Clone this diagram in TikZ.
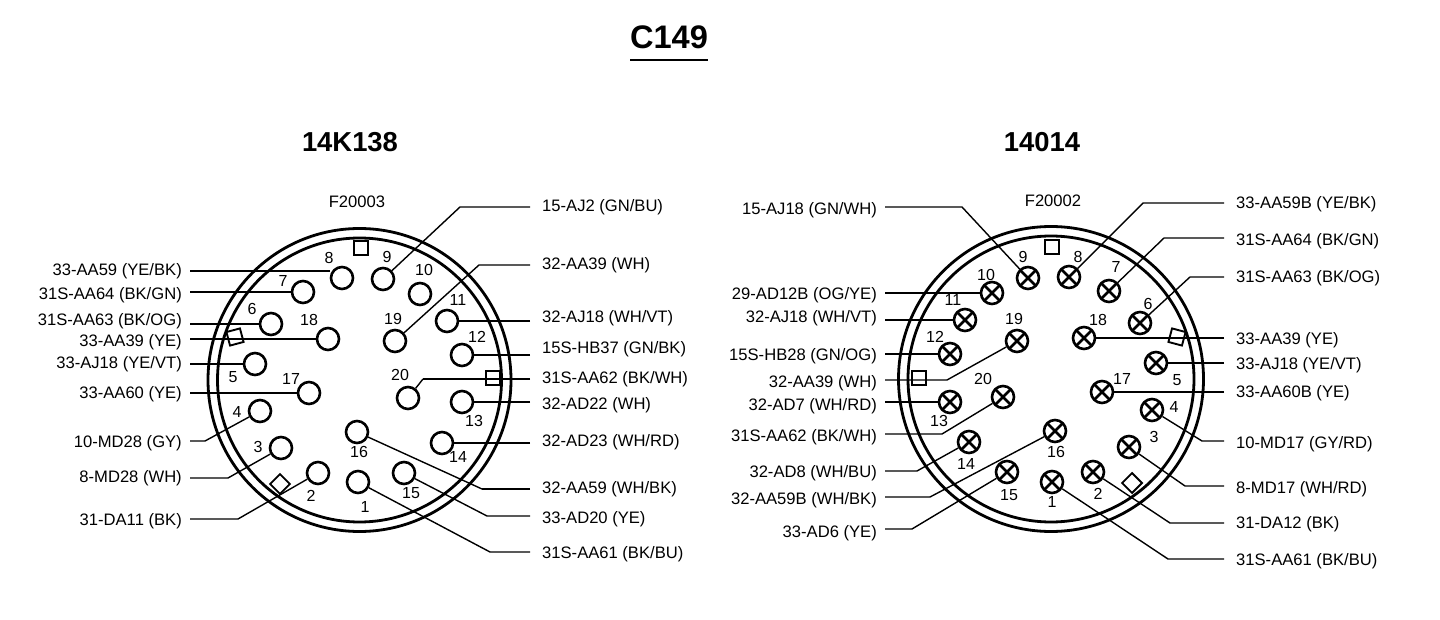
\documentclass[tikz,border=0pt]{standalone}
\usepackage{fontspec}
\setmainfont{Liberation Sans}
\tikzset{
  x=1pt,y=-1pt,
  pin/.style={circle,draw,line width=2.6pt,minimum size=22pt,inner sep=0pt},
  xpin/.style={pin,path picture={\draw[line width=2.8pt]
     (path picture bounding box.south west)--(path picture bounding box.north east)
     (path picture bounding box.north west)--(path picture bounding box.south east);}},
  num/.style={font=\fontsize{16}{18}\selectfont,inner sep=0pt},
  rlab/.style={font=\fontsize{16.6}{18}\selectfont,anchor=east,inner xsep=8pt,inner ysep=0pt,text height=12pt,text depth=0pt},
  llab/.style={font=\fontsize{16.6}{18}\selectfont,anchor=west,inner xsep=12pt,inner ysep=0pt,text height=12pt,text depth=0pt},
  wire/.style={line width=1.4pt},
  hwire/.style={line width=2.2pt},
  keybox/.style={draw,line width=1.9pt,minimum size=14pt,inner sep=0pt},
  ring/.style={draw,line width=2.8pt},
  head/.style={font=\bfseries\fontsize{27.4}{30}\selectfont,inner sep=0pt},
  code/.style={font=\fontsize{16.6}{18}\selectfont,inner sep=0pt},
}
\begin{document}
\begin{tikzpicture}
\useasboundingbox[fill=white] (0,0) rectangle (1440,620);
% headings
\node[head,font=\bfseries\fontsize{32.6}{34}\selectfont] (title) at (669,37) {C149};
\draw[line width=2pt] (630,60) -- (708,60);
\node[head] (hl) at (350,142) {14K138};
\node[head] (hr) at (1042,142) {14014};
\node[code] (cl) at (357,202) {F20003};
\node[code] (cr) at (1053,201) {F20002};
% left connector
\draw[ring] (359.5,380) circle[radius=151.5];
\draw[ring] (359.5,380) circle[radius=142];
\node[keybox] (kl1) at (361,248) {};
\node[keybox,rotate=15] (kl2) at (235,337) {};
\node[keybox] (kl3) at (493,378) {};
\node[keybox,rotate=45] (kl4) at (280,484) {};
\foreach \n/\x/\y in {1/358/482,2/318/473,3/281/448,4/260/411,5/255/364,6/271/324,7/303/292,8/342/278,9/383/279,10/420/294,11/447/321,12/462/355,13/462/402,14/442/443,15/404/473,16/357/432,17/309/393,18/328/339,19/395/341,20/408/398}
  \node[pin] (a\n) at (\x,\y) {};
\foreach \n/\x/\y in {1/365/507,2/311/496,3/258/447,4/237/412,5/233/377,6/252/309,7/283/281,8/329/258,9/387/257,10/424/270,11/458/300,12/477/337,13/474/421,14/458/457,15/411/493,16/359/452,17/291/379,18/309/320,19/393/319,20/400/375}
  \node[num] (an\n) at (\x,\y) {\n};
% left connector, left labels
\node[rlab] (la8) at (190,270) {33-AA59 (YE/BK)};
\node[rlab] (la7) at (190,293) {31S-AA64 (BK/GN)};
\node[rlab] (la6) at (190,319) {31S-AA63 (BK/OG)};
\node[rlab] (la18) at (190,340) {33-AA39 (YE)};
\node[rlab] (la5) at (190,362) {33-AJ18 (YE/VT)};
\node[rlab] (la17) at (190,392) {33-AA60 (YE)};
\node[rlab] (la4) at (190,441) {10-MD28 (GY)};
\node[rlab] (la3) at (190,476) {8-MD28 (WH)};
\node[rlab] (la2) at (190,519) {31-DA11 (BK)};
\draw[hwire] (la8.east |- 0,271) -- (a8.west |- 0,271);
\draw[wire] (la7.east |- a7) -- (a7);
\draw[wire] (la6.east |- a6) -- (a6);
\draw[wire] (la18.east |- a18) -- (a18);
\draw[wire] (la5.east |- a5) -- (a5);
\draw[wire] (la17.east |- a17) -- (a17);
\draw[wire] (la4.east) -- (205,441) -- (a4);
\draw[wire] (la3.east |- 0,478) -- (228,478) -- (a3);
\draw[wire] (la2.east) -- (238,519) -- (a2);
% left connector, right labels
\node[llab] (la9) at (530,206) {15-AJ2 (GN/BU)};
\node[llab] (la19) at (530,264) {32-AA39 (WH)};
\node[llab] (la11) at (530,316) {32-AJ18 (WH/VT)};
\node[llab] (la12) at (530,347) {15S-HB37 (GN/BK)};
\node[llab] (la20) at (530,377) {31S-AA62 (BK/WH)};
\node[llab] (la13) at (530,403) {32-AD22 (WH)};
\node[llab] (la14) at (530,440) {32-AD23 (WH/RD)};
\node[llab] (la16) at (530,487) {32-AA59 (WH/BK)};
\node[llab] (la15) at (530,517) {33-AD20 (YE)};
\node[llab] (la1) at (530,552) {31S-AA61 (BK/BU)};
\draw[wire] (la9.west |- 0,207) -- (460,207) -- (a9);
\draw[wire] (la19.west |- 0,265) -- (479,265) -- (a19);
\draw[hwire] (la11.west |- a11) -- (a11);
\draw[wire] (la12.west |- a12) -- (a12);
\draw[hwire] (la20.west |- 0,379) -- (423,379);
\draw[wire] (423,379) -- (a20);
\draw[wire] (la13.west |- a13) -- (a13);
\draw[hwire] (la14.west |- a14) -- (a14);
\draw[hwire] (la16.west |- 0,489) -- (482,489);
\draw[wire] (482,489) -- (a16);
\draw[wire] (la15.west |- 0,516) -- (487,516) -- (a15);
\draw[wire] (la1.west) -- (490,552) -- (a1);
% right connector
\draw[ring] (1051,379) circle[radius=152.5];
\draw[ring] (1051,379) circle[radius=143];
\node[keybox] (kr1) at (1052,247) {};
\node[keybox,rotate=-15] (kr2) at (1177,337) {};
\node[keybox] (kr3) at (919,378) {};
\node[keybox,rotate=45] (kr4) at (1132,483) {};
\foreach \n/\x/\y in {1/1052/482,2/1093/472,3/1129/447,4/1152/410,5/1156/363,6/1140/323,7/1109/291,8/1069/277,9/1028/278,10/992/293,11/965/320,12/950/354,13/950/402,14/969/442,15/1007/472,16/1055/431,17/1102/392,18/1084/338,19/1017/341,20/1003/397}
  \node[xpin] (b\n) at (\x,\y) {};
\foreach \n/\x/\y in {1/1052/502,2/1098/494,3/1154/437,4/1174/407,5/1177/380,6/1148/304,7/1116/267,8/1078/257,9/1023/257,10/986/275,11/953/300,12/935/337,13/939/421,14/966/464,15/1009/495,16/1056/452,17/1122/379,18/1098/320,19/1014/319,20/983/379}
  \node[num] (bn\n) at (\x,\y) {\n};
% right connector, left labels
\node[rlab] (lb9) at (885,209) {15-AJ18 (GN/WH)};
\node[rlab] (lb10) at (885,293) {29-AD12B (OG/YE)};
\node[rlab] (lb11) at (885,317) {32-AJ18 (WH/VT)};
\node[rlab] (lb12) at (885,354) {15S-HB28 (GN/OG)};
\node[rlab] (lb19) at (885,381) {32-AA39 (WH)};
\node[rlab] (lb13) at (885,404) {32-AD7 (WH/RD)};
\node[rlab] (lb20) at (885,435) {31S-AA62 (BK/WH)};
\node[rlab] (lb14) at (885,471) {32-AD8 (WH/BU)};
\node[rlab] (lb16) at (885,498) {32-AA59B (WH/BK)};
\node[rlab] (lb15) at (885,531) {33-AD6 (YE)};
\draw[wire] (lb9.east |- 0,207) -- (962,207) -- (b9);
\draw[hwire] (lb10.east |- b10) -- (b10);
\draw[wire] (lb11.east |- b11) -- (b11);
\draw[wire] (lb12.east |- b12) -- (b12);
\draw[wire] (lb19.east |- 0,380) -- (947,380) -- (b19);
\draw[wire] (lb13.east |- b13) -- (b13);
\draw[wire] (lb20.east |- 0,434) -- (942,434) -- (b20);
\draw[wire] (lb14.east) -- (917,471) -- (b14);
\draw[wire] (lb16.east |- 0,497) -- (930,497) -- (b16);
\draw[wire] (lb15.east |- 0,529) -- (912,529) -- (b15);
% right connector, right labels
\node[llab] (lb8) at (1224,203) {33-AA59B (YE/BK)};
\node[llab] (lb7) at (1224,240) {31S-AA64 (BK/GN)};
\node[llab] (lb6) at (1224,277) {31S-AA63 (BK/OG)};
\node[llab] (lb18) at (1224,338) {33-AA39 (YE)};
\node[llab] (lb5) at (1224,363) {33-AJ18 (YE/VT)};
\node[llab] (lb17) at (1224,391) {33-AA60B (YE)};
\node[llab] (lb4) at (1224,442) {10-MD17 (GY/RD)};
\node[llab] (lb3) at (1224,487) {8-MD17 (WH/RD)};
\node[llab] (lb2) at (1224,522) {31-DA12 (BK)};
\node[llab] (lb1) at (1224,559) {31S-AA61 (BK/BU)};
\draw[wire] (lb8.west) -- (1143,203) -- (b8);
\draw[wire] (lb7.west |- 0,238) -- (1164,238) -- (b7);
\draw[wire] (lb6.west) -- (1190,277) -- (b6);
\draw[wire] (lb18.west |- b18) -- (b18);
\draw[wire] (lb5.west |- b5) -- (b5);
\draw[wire] (lb17.west |- b17) -- (b17);
\draw[wire] (lb4.west |- 0,441) -- (1202,441) -- (b4);
\draw[wire] (lb3.west |- 0,486) -- (1185,486) -- (b3);
\draw[wire] (lb2.west |- 0,523) -- (1170,523) -- (b2);
\draw[wire] (lb1.west) -- (1168,559) -- (b1);
\end{tikzpicture}
\end{document}
